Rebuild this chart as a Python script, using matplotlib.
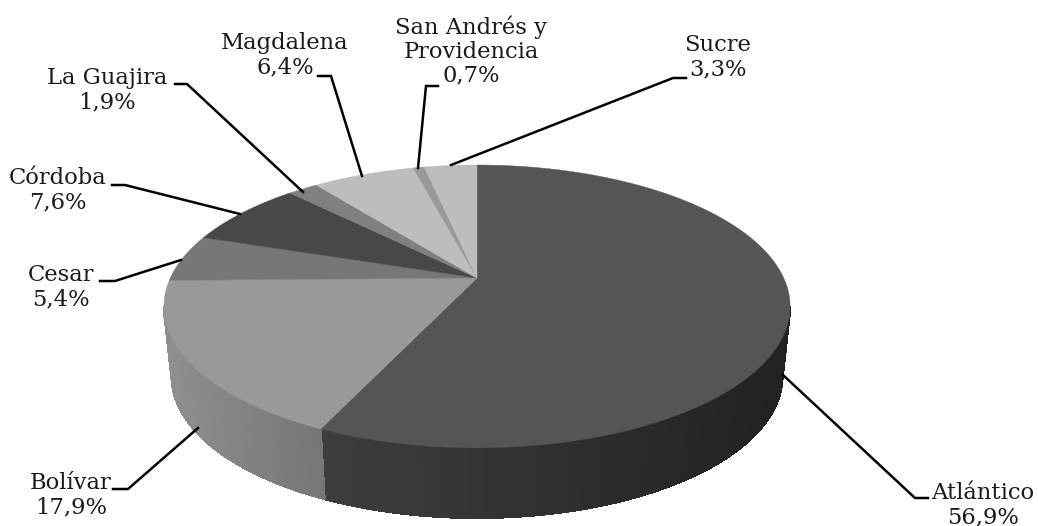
import numpy as np
import matplotlib
matplotlib.use("Agg")
import matplotlib.pyplot as plt

categories = ['Atlántico', 'Bolívar', 'Cesar', 'Córdoba', 'La Guajira', 'Magdalena',
              'San Andrés y\nProvidencia', 'Sucre']
values = [56.9, 17.9, 5.4, 7.6, 1.9, 6.4, 0.7, 3.3]
top_colors = ['#555555', '#999999', '#777777', '#484848', '#808080', '#bdbdbd', '#999999', '#bdbdbd']

# label centre and leader line, in image pixels
label_pos = [(983, 505), (71, 495), (61, 287), (58, 190), (107, 90), (285, 55), (471, 51), (718, 57)]
leaders = [
    [(783, 375), (915, 498), (928, 498)],
    [(198, 428), (128, 489), (113, 489)],
    [(181, 260), (115, 281), (100, 281)],
    [(240, 214), (125, 185), (112, 185)],
    [(303, 192), (187, 84), (175, 84)],
    [(362, 176), (331, 76), (318, 76)],
    [(418, 168), (426, 86), (438, 86)],
    [(451, 165), (673, 78), (686, 78)],
]

# pie geometry, perspective view of a disc
apex_x, apex_y = 477, 278
k = 0.201
a = 306.7
b = 135.7
depth = 70
base_scale = 0.975


def rim(theta):
    u, v = np.sin(theta), np.cos(theta)
    w = 1 + k * v
    return apex_x + a * u / w, apex_y - b * v / w


def base(theta):
    x, y = rim(theta)
    return apex_x + (x - apex_x) * base_scale, y + depth


def side_shade(x, i):
    # sides get darker towards the right
    if i == 0:
        return str(0.13 + (1 - (x - 323) / 467) * 0.11)
    return str(0.56 - 0.10 * np.clip((x - 164) / 159, 0, 1))


fig = plt.figure(figsize=(10.38, 5.26), dpi=100)
ax = fig.add_axes([0, 0, 1, 1])
ax.set_xlim(0, 1038)
ax.set_ylim(526, 0)
ax.axis('off')

fracs = np.array(values) / sum(values)
edges = np.concatenate([[0], np.cumsum(fracs)]) * 2 * np.pi

# extreme left/right of the rim, the side wall shows between them
th_right = np.arcsin(k) + np.pi / 2
th_left = 2 * np.pi - th_right

for i in range(2):
    t0, t1 = max(edges[i], th_right), min(edges[i + 1], th_left)
    steps = np.linspace(t0, t1, 90)
    for s0, s1 in zip(steps[:-1], steps[1:]):
        x0, y0 = rim(s0)
        x1, y1 = rim(s1)
        x2, y2 = base(s1)
        x3, y3 = base(s0)
        c = side_shade((x0 + x1) / 2, i)
        ax.fill([x0, x1, x2, x3], [y0, y1, y2, y3], color=c, lw=1.0, antialiased=False, zorder=1)

for i, c in enumerate(top_colors):
    th = np.linspace(edges[i], edges[i + 1], 200)
    xs, ys = rim(th)
    ax.fill(np.r_[apex_x, xs], np.r_[apex_y, ys], color=c, lw=0.3, zorder=2)

for pts in leaders:
    ax.plot(*zip(*pts), color='black', lw=1.8, zorder=3, solid_joinstyle='miter', clip_on=False)

for name, v, (x, y) in zip(categories, values, label_pos):
    pct = f"{v:.1f}".replace('.', ',') + '%'
    ax.text(x, y, f"{name}\n{pct}", ha='center', va='center', fontsize=16.3,
            family='DejaVu Serif', color='#1a1a1a', linespacing=1.12, zorder=4)

fig.savefig('out.png', dpi=100)
